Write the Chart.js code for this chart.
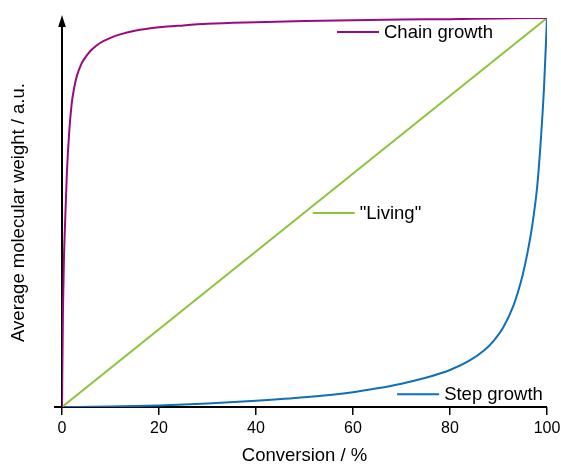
<!DOCTYPE html>
<html>
<head>
<meta charset="utf-8">
<script src="https://cdn.jsdelivr.net/npm/chart.js@4.4.1/dist/chart.umd.min.js"></script>
<style>
html,body{margin:0;padding:0;background:#fff;}
#wrap{width:561px;height:464px;}
</style>
</head>
<body>
<div id="wrap"><canvas id="c" width="561" height="464"></canvas></div>
<script>
// ---- data ----
const xTicks = [0, 20, 40, 60, 80, 100];

const chainX = [0, 0.2, 0.4, 0.6, 0.8, 1, 1.5, 2, 2.5, 3, 4, 5, 6, 7, 8, 10, 12, 15, 20, 25, 30, 40, 50, 60, 70, 80, 90, 100];
const chainY = [0, 0.25, 0.38, 0.46, 0.53, 0.60, 0.71, 0.78, 0.82, 0.848, 0.882, 0.902, 0.917, 0.928, 0.937, 0.949, 0.958, 0.967, 0.976, 0.981, 0.985, 0.989, 0.992, 0.994, 0.996, 0.997, 0.999, 1.0];

const livingX = [0, 100];
const livingY = [0, 1];

const stepX = [0, 10, 20, 30, 40, 50, 60, 65, 70, 75, 80, 84, 87, 89, 91, 93, 94, 95, 96, 97, 98, 98.8, 99.4, 100];
const stepY = [0, 0.001, 0.004, 0.009, 0.016, 0.025, 0.038, 0.048, 0.060, 0.075, 0.095, 0.119, 0.145, 0.170, 0.205, 0.258, 0.295, 0.340, 0.398, 0.470, 0.570, 0.700, 0.825, 1.0];

const seriesNames = ['Chain growth', '"Living"', 'Step growth'];
const seriesColors = ['#9a0a7e', '#8cc43c', '#0f6fb7'];
// label anchor (in data units) for inline legend entries
const labelAnchorX = [56.7, 51.7, 69.1];
const labelAnchorY = [0.964, 0.499, 0.033];

const xTitle = 'Conversion / %';
const yTitle = 'Average molecular weight / a.u.';

function pts(xs, ys){ return xs.map((x,i)=>({x:x, y:ys[i]})); }

const FONT = '"Liberation Sans", Arial, Helvetica, sans-serif';

const axesPlugin = {
  id: 'axesPlugin',
  beforeDatasetsDraw(chart){
    const ctx = chart.ctx, a = chart.chartArea;
    ctx.save();
    ctx.strokeStyle = '#000';
    ctx.lineWidth = 2;
    ctx.beginPath();
    ctx.moveTo(a.left - 8, a.bottom);
    ctx.lineTo(a.right, a.bottom);
    ctx.stroke();
    ctx.beginPath();
    ctx.moveTo(a.left, a.bottom);
    ctx.lineTo(a.left, a.top + 6);
    ctx.stroke();
    ctx.fillStyle = '#000';
    ctx.beginPath();
    ctx.moveTo(a.left, a.top - 3);
    ctx.lineTo(a.left - 3.8, a.top + 9);
    ctx.lineTo(a.left + 3.8, a.top + 9);
    ctx.closePath();
    ctx.fill();
    ctx.restore();
  },
  afterDraw(chart){
    const ctx = chart.ctx, a = chart.chartArea;
    const xs = chart.scales.x, ys = chart.scales.y;
    ctx.save();
    ctx.font = '18.5px ' + FONT;
    ctx.textBaseline = 'middle';
    ctx.textAlign = 'left';
    for (let i = 0; i < seriesNames.length; i++){
      const px = xs.getPixelForValue(labelAnchorX[i]);
      const py = ys.getPixelForValue(labelAnchorY[i]);
      ctx.strokeStyle = seriesColors[i];
      ctx.lineWidth = 2;
      ctx.beginPath();
      ctx.moveTo(px, py);
      ctx.lineTo(px + 42, py);
      ctx.stroke();
      ctx.fillStyle = '#000';
      ctx.fillText(seriesNames[i], px + 47, py + 1);
    }
    ctx.fillStyle = '#000';
    ctx.font = '18.5px ' + FONT;
    ctx.textAlign = 'center';
    ctx.fillText(xTitle, (a.left + a.right) / 2, 456);
    ctx.translate(19, (a.top + a.bottom) / 2);
    ctx.rotate(-Math.PI / 2);
    ctx.fillText(yTitle, 0, 0);
    ctx.restore();
  }
};

new Chart(document.getElementById('c'), {
  type: 'line',
  data: {
    datasets: [
      { label: seriesNames[0], data: pts(chainX, chainY), borderColor: seriesColors[0] },
      { label: seriesNames[1], data: pts(livingX, livingY), borderColor: seriesColors[1] },
      { label: seriesNames[2], data: pts(stepX, stepY), borderColor: seriesColors[2] }
    ]
  },
  options: {
    responsive: false,
    animation: false,
    events: [],
    layout: { padding: { left: 62, right: 14, top: 18, bottom: 0 } },
    elements: {
      point: { radius: 0 },
      line: { borderWidth: 2, cubicInterpolationMode: 'monotone', fill: false }
    },
    plugins: { legend: { display: false }, tooltip: { enabled: false } },
    scales: {
      x: {
        type: 'linear', min: 0, max: 100,
        afterBuildTicks(s){ s.ticks = xTicks.map(v => ({ value: v })); },
        afterFit(s){ s.height = 57; s.paddingLeft = 0; s.paddingRight = 0; },
        border: { display: false },
        grid: { drawOnChartArea: false, drawTicks: true, tickLength: 8, color: '#000', lineWidth: 1.5 },
        ticks: { color: '#000', font: { family: FONT, size: 16 }, padding: 4, maxRotation: 0 }
      },
      y: { type: 'linear', min: 0, max: 1, display: false }
    }
  },
  plugins: [axesPlugin]
});
</script>
</body>
</html>
